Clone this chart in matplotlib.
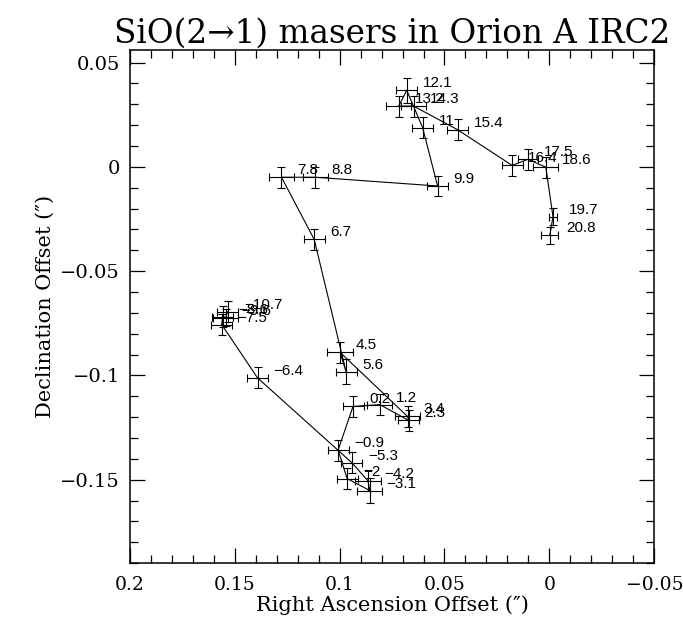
import matplotlib
matplotlib.use('Agg')
import matplotlib.pyplot as plt
from matplotlib.ticker import MultipleLocator, FuncFormatter

# velocity of each maser spot (km/s), in the order the track is drawn
velocities = ['\u221210.7', '\u22129.6', '\u22128.6', '\u22127.5', '\u22126.4', '\u22125.3',
              '\u22124.2', '\u22123.1', '\u22122', '\u22120.9', '0.2', '1.2', '2.3', '3.4',
              '4.5', '5.6', '6.7', '7.8', '8.8', '9.9', '11', '12.1', '13.2', '14.3',
              '15.4', '16.4', '17.5', '18.6', '19.7', '20.8']

# RA / Dec offsets (arcsec)
ra_offset = [0.1533, 0.1543, 0.1557, 0.1562, 0.1391, 0.0941, 0.0865, 0.0856, 0.0964,
             0.1007, 0.0936, 0.0808, 0.0671, 0.0676, 0.0998, 0.0969, 0.1121, 0.1277,
             0.1116, 0.0533, 0.0604, 0.0680, 0.0718, 0.0647, 0.0438, 0.0178, 0.0102,
             0.0017, -0.0017, -0.0002]
dec_offset = [-0.0694, -0.0723, -0.0718, -0.0756, -0.1012, -0.1419, -0.1505, -0.1552,
              -0.1495, -0.1358, -0.1149, -0.1140, -0.1216, -0.1197, -0.0889, -0.0983,
              -0.0348, -0.0050, -0.0050, -0.0092, 0.0187, 0.0367, 0.0291, 0.0291,
              0.0178, 0.0007, 0.0036, -0.0002, -0.0239, -0.0329]

# positional uncertainties
ra_err = [0.005, 0.006, 0.005, 0.005, 0.005, 0.005, 0.006, 0.006, 0.005, 0.005,
          0.005, 0.006, 0.005, 0.006, 0.006, 0.005, 0.005, 0.006, 0.006, 0.005,
          0.005, 0.005, 0.006, 0.006, 0.005, 0.005, 0.005, 0.006, 0.002, 0.004]
dec_err = [0.005, 0.004, 0.005, 0.005, 0.005, 0.005, 0.005, 0.006, 0.005, 0.005,
           0.005, 0.005, 0.005, 0.005, 0.005, 0.006, 0.005, 0.005, 0.005, 0.005,
           0.005, 0.006, 0.005, 0.005, 0.005, 0.005, 0.005, 0.005, 0.004, 0.004]


def fmt_tick(v, pos):
    s = '%g' % round(v, 4)
    if s == '-0':
        s = '0'
    return s.replace('-', '\u2212')


def make_plot():
    plt.rcParams['font.family'] = 'DejaVu Serif'
    plt.rcParams['axes.unicode_minus'] = True

    fig = plt.figure(figsize=(6.83, 6.25), dpi=100)
    ax = fig.add_axes([0.19, 0.099, 0.768, 0.821])

    # track connecting the spots
    ax.plot(ra_offset, dec_offset, color='black', linewidth=0.8)
    ax.errorbar(ra_offset, dec_offset, xerr=ra_err, yerr=dec_err, fmt='none',
                ecolor='black', elinewidth=0.8, capsize=2.8, capthick=0.8)

    # velocity labels
    for x, y, v in zip(ra_offset, dec_offset, velocities):
        ax.annotate(v, (x, y), xytext=(16, 7), textcoords='offset pixels',
                    ha='left', va='center', fontsize=11,
                    family='Liberation Sans')

    ax.set_xlim(0.2, -0.05)
    ax.set_ylim(-0.19, 0.056)

    ax.xaxis.set_major_locator(MultipleLocator(0.05))
    ax.xaxis.set_minor_locator(MultipleLocator(0.01))
    ax.yaxis.set_major_locator(MultipleLocator(0.05))
    ax.yaxis.set_minor_locator(MultipleLocator(0.01))
    ax.xaxis.set_major_formatter(FuncFormatter(fmt_tick))
    ax.yaxis.set_major_formatter(FuncFormatter(fmt_tick))

    ax.tick_params(which='both', direction='in', top=True, right=True,
                   labelsize=14, width=0.9, color='black')
    ax.tick_params(axis='x', labelsize=13.5)
    ax.tick_params(which='major', length=11)
    ax.tick_params(which='minor', length=6)
    ax.tick_params(axis='x', pad=9)
    ax.tick_params(axis='y', pad=7)
    for sp in ax.spines.values():
        sp.set_linewidth(1.1)

    ax.set_xlabel('Right Ascension Offset (\u2033)', fontsize=15, labelpad=1)
    ax.set_ylabel('Declination Offset (\u2033)', fontsize=15, labelpad=4)
    ax.set_title('SiO(2\u21921) masers in Orion A IRC2', fontsize=23.5, pad=5)

    plt.savefig('out.png', dpi=100)
    plt.close()


if __name__ == '__main__':
    make_plot()
